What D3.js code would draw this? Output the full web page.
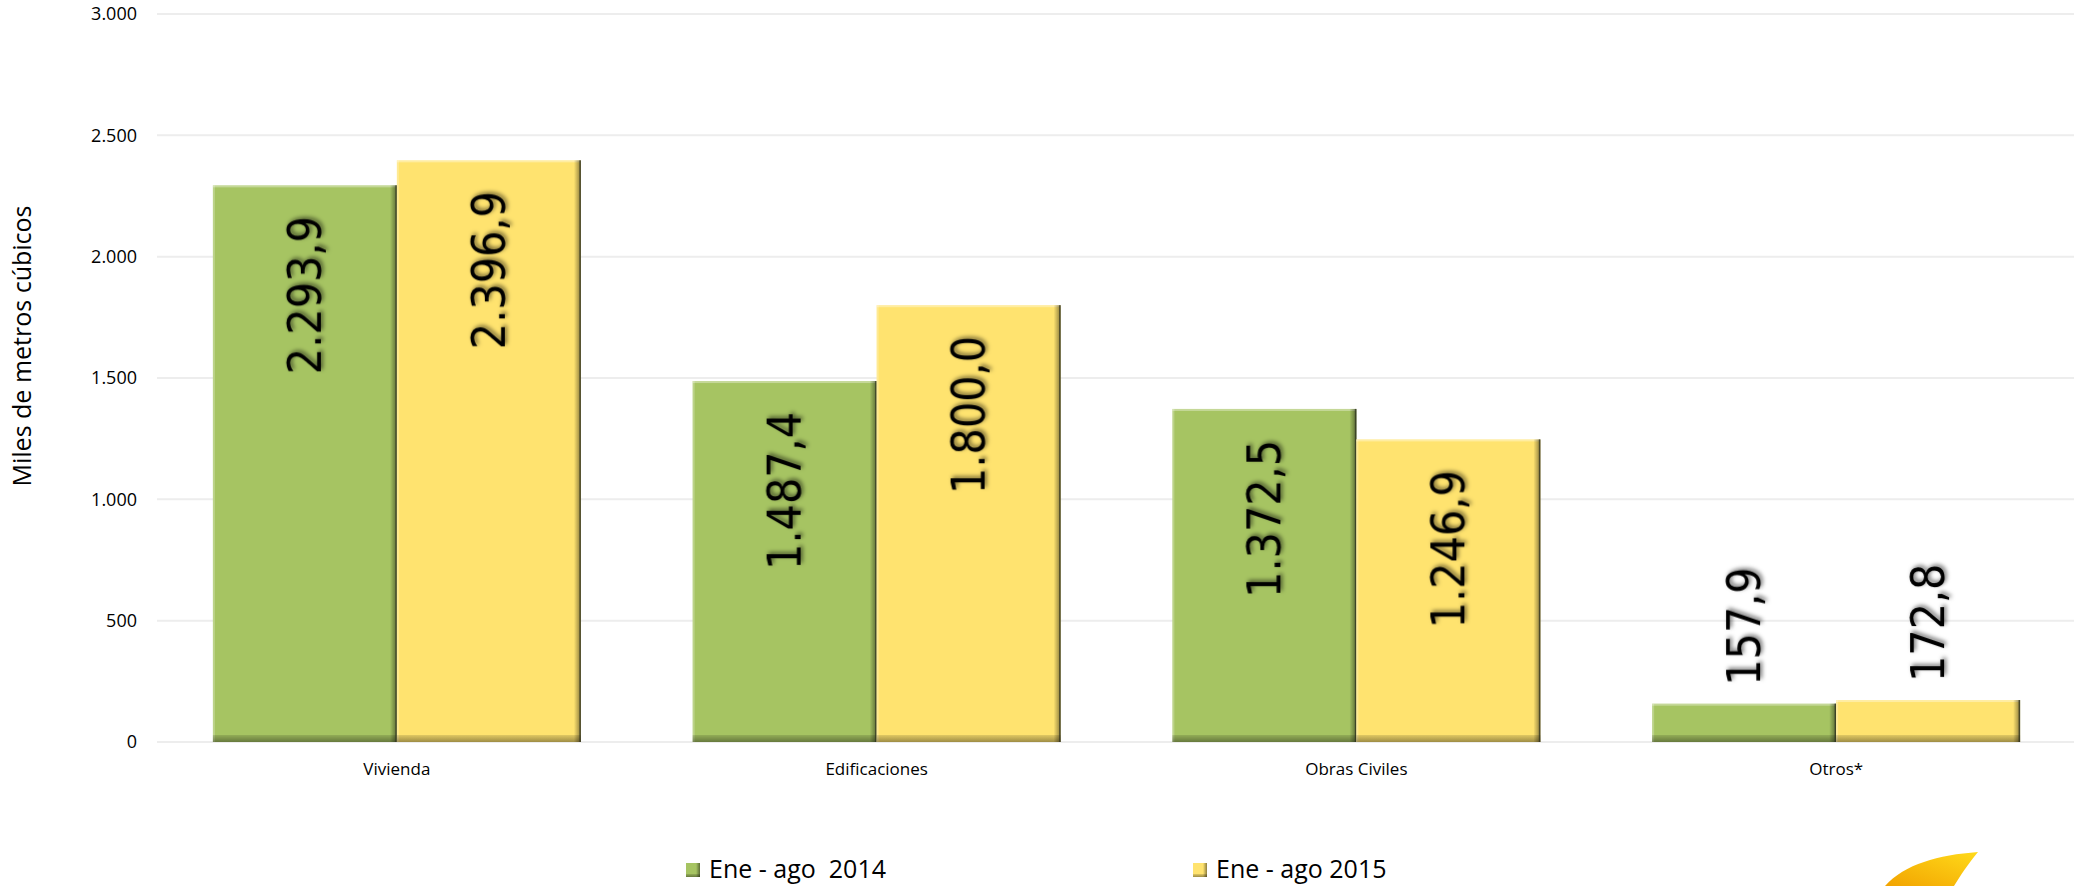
<!DOCTYPE html>
<html>
<head>
<meta charset="utf-8">
<script src="https://cdn.jsdelivr.net/npm/d3@7"></script>
<style>
  html, body { margin: 0; padding: 0; background: #ffffff; }
  svg { display: block; font-family: 'Open Sans', 'Noto Sans', sans-serif; }
</style>
</head>
<body>
<svg width="2074" height="886"></svg>
<script>
// datos
const categories = ['Vivienda', 'Edificaciones', 'Obras Civiles', 'Otros*'];
const seriesNames = ['Ene - ago  2014', 'Ene - ago 2015'];
const values2014 = [2293.9, 1487.4, 1372.5, 157.9];
const values2015 = [2396.9, 1800.0, 1246.9, 172.8];
const yTicks = [0, 500, 1000, 1500, 2000, 2500, 3000];
const yTitle = 'Miles de metros cúbicos';

const colors = ['#A6C462', '#FFE36F'];

// formato español
const es = d3.formatLocale({ decimal: ',', thousands: '.', grouping: [3], currency: ['', ' €'] });
const fmtTick = es.format(',.0f');
const fmtVal = es.format(',.1f');

const svg = d3.select('svg');
const W = +svg.attr('width');
const plot = { left: 157, right: 2076, top: 14, bottom: 742 };

const x0 = d3.scaleBand()
    .domain(categories)
    .range([plot.left, plot.right])
    .paddingInner(0.233)
    .paddingOuter(0.1165);
const x1 = d3.scaleBand()
    .domain(d3.range(seriesNames.length))
    .range([0, x0.bandwidth()]);
const y = d3.scaleLinear().domain([0, 3000]).range([plot.bottom, plot.top]);

const defs = svg.append('defs');
const gR = defs.append('linearGradient').attr('id', 'shadeR').attr('x1', 0).attr('x2', 1).attr('y1', 0).attr('y2', 0);
gR.append('stop').attr('offset', 0).attr('stop-color', '#000').attr('stop-opacity', 0);
gR.append('stop').attr('offset', 1).attr('stop-color', '#000').attr('stop-opacity', 0.45);
const gB = defs.append('linearGradient').attr('id', 'shadeB').attr('x1', 0).attr('x2', 0).attr('y1', 0).attr('y2', 1);
gB.append('stop').attr('offset', 0).attr('stop-color', '#000').attr('stop-opacity', 0.12);
gB.append('stop').attr('offset', 1).attr('stop-color', '#000').attr('stop-opacity', 0.38);
const gLogo = defs.append('linearGradient').attr('id', 'logo').attr('x1', 0).attr('x2', 1).attr('y1', 1).attr('y2', 0);
gLogo.append('stop').attr('offset', 0).attr('stop-color', '#F2A300');
gLogo.append('stop').attr('offset', 1).attr('stop-color', '#FFDA1A');
const shadow = defs.append('filter').attr('id', 'txtShadow')
    .attr('x', '-20%').attr('y', '-20%').attr('width', '140%').attr('height', '140%');
shadow.append('feDropShadow')
    .attr('dx', 2).attr('dy', 2).attr('stdDeviation', 2)
    .attr('flood-color', '#000').attr('flood-opacity', 0.55);

// rejilla
svg.append('g')
    .selectAll('line')
    .data(yTicks)
    .join('line')
    .attr('x1', plot.left)
    .attr('x2', W)
    .attr('y1', d => y(d))
    .attr('y2', d => y(d))
    .attr('stroke', '#EDEDED')
    .attr('stroke-width', 2);

// eje y
const yAxis = svg.append('g')
    .attr('transform', `translate(${plot.left},0)`)
    .call(d3.axisLeft(y).tickValues(yTicks).tickFormat(fmtTick).tickSize(0).tickPadding(20));
yAxis.select('.domain').remove();
yAxis.selectAll('text')
    .attr('font-family', "'Open Sans', sans-serif")
    .attr('font-size', 18)
    .attr('fill', '#000');

svg.append('text')
    .attr('transform', `translate(21,346) rotate(-90)`)
    .attr('text-anchor', 'middle')
    .attr('dominant-baseline', 'central')
    .attr('font-size', 25)
    .attr('fill', '#000')
    .text(yTitle);

// eje x
const xAxis = svg.append('g')
    .attr('transform', `translate(0,${plot.bottom})`)
    .call(d3.axisBottom(x0).tickSize(0).tickPadding(21));
xAxis.select('.domain').remove();
xAxis.selectAll('text')
    .attr('font-family', "'Open Sans', sans-serif")
    .attr('font-size', 17)
    .attr('fill', '#000');

// barras
const allValues = [values2014, values2015];
const bars = [];
categories.forEach((c, i) => {
    allValues.forEach((vals, s) => {
        bars.push({ cat: c, s, v: vals[i] });
    });
});

const bw = x1.bandwidth();
const barG = svg.append('g')
    .selectAll('g')
    .data(bars)
    .join('g')
    .attr('transform', d => `translate(${x0(d.cat) + x1(d.s)},${y(d.v)})`);

barG.append('rect')
    .attr('width', bw)
    .attr('height', d => plot.bottom - y(d.v))
    .attr('fill', d => colors[d.s]);
// biselado
barG.append('rect')
    .attr('width', bw)
    .attr('height', 2)
    .attr('fill', '#fff')
    .attr('opacity', 0.35);
barG.append('rect')
    .attr('width', 2)
    .attr('height', d => plot.bottom - y(d.v))
    .attr('fill', '#fff')
    .attr('opacity', 0.25);
barG.append('rect')
    .attr('x', 0)
    .attr('y', d => plot.bottom - y(d.v) - 7)
    .attr('width', bw)
    .attr('height', 7)
    .attr('fill', 'url(#shadeB)');
barG.append('rect')
    .attr('x', bw - 7)
    .attr('width', 7)
    .attr('height', d => plot.bottom - y(d.v))
    .attr('fill', 'url(#shadeR)');
barG.append('rect')
    .attr('x', bw - 1.5)
    .attr('width', 1.5)
    .attr('height', d => plot.bottom - y(d.v))
    .attr('fill', '#2f3320')
    .attr('opacity', 0.75);

// etiquetas
barG.append('text')
    .attr('font-family', "'DejaVu Sans Condensed', 'DejaVu Sans', sans-serif")
    .style('font-stretch', 'condensed')
    .attr('font-size', 46)
    .attr('fill', '#000')
    .attr('filter', 'url(#txtShadow)')
    .attr('dominant-baseline', 'central')
    .text(d => fmtVal(d.v))
    .each(function(d) {
        const len = this.getComputedTextLength();
        const h = plot.bottom - y(d.v);
        const inside = h > len + 45;
        d3.select(this)
            .attr('text-anchor', inside ? 'end' : 'start')
            .attr('transform', `translate(${bw / 2},${inside ? 31 : -18}) rotate(-90)`);
    });

// leyenda
const legendX = [686, 1193];
const legend = svg.append('g')
    .selectAll('g')
    .data(seriesNames)
    .join('g')
    .attr('transform', (d, i) => `translate(${legendX[i]},863)`);
legend.append('rect')
    .attr('width', 14)
    .attr('height', 14)
    .attr('fill', (d, i) => colors[i]);
legend.append('rect')
    .attr('x', 10)
    .attr('width', 4)
    .attr('height', 14)
    .attr('fill', 'url(#shadeR)');
legend.append('rect')
    .attr('y', 11)
    .attr('width', 14)
    .attr('height', 3)
    .attr('fill', 'url(#shadeB)');
legend.append('text')
    .attr('x', 23)
    .attr('y', 15)
    .attr('font-size', 25)
    .attr('fill', '#000')
    .style('white-space', 'pre')
    .text(d => d);

// logo (recortado)
const p = d3.path();
p.moveTo(1885, 886);
p.bezierCurveTo(1905, 864, 1938, 855, 1978, 852);
p.bezierCurveTo(1968, 864, 1960, 876, 1954, 886);
p.closePath();
svg.append('path')
    .attr('d', p.toString())
    .attr('fill', 'url(#logo)');
</script>
</body>
</html>
